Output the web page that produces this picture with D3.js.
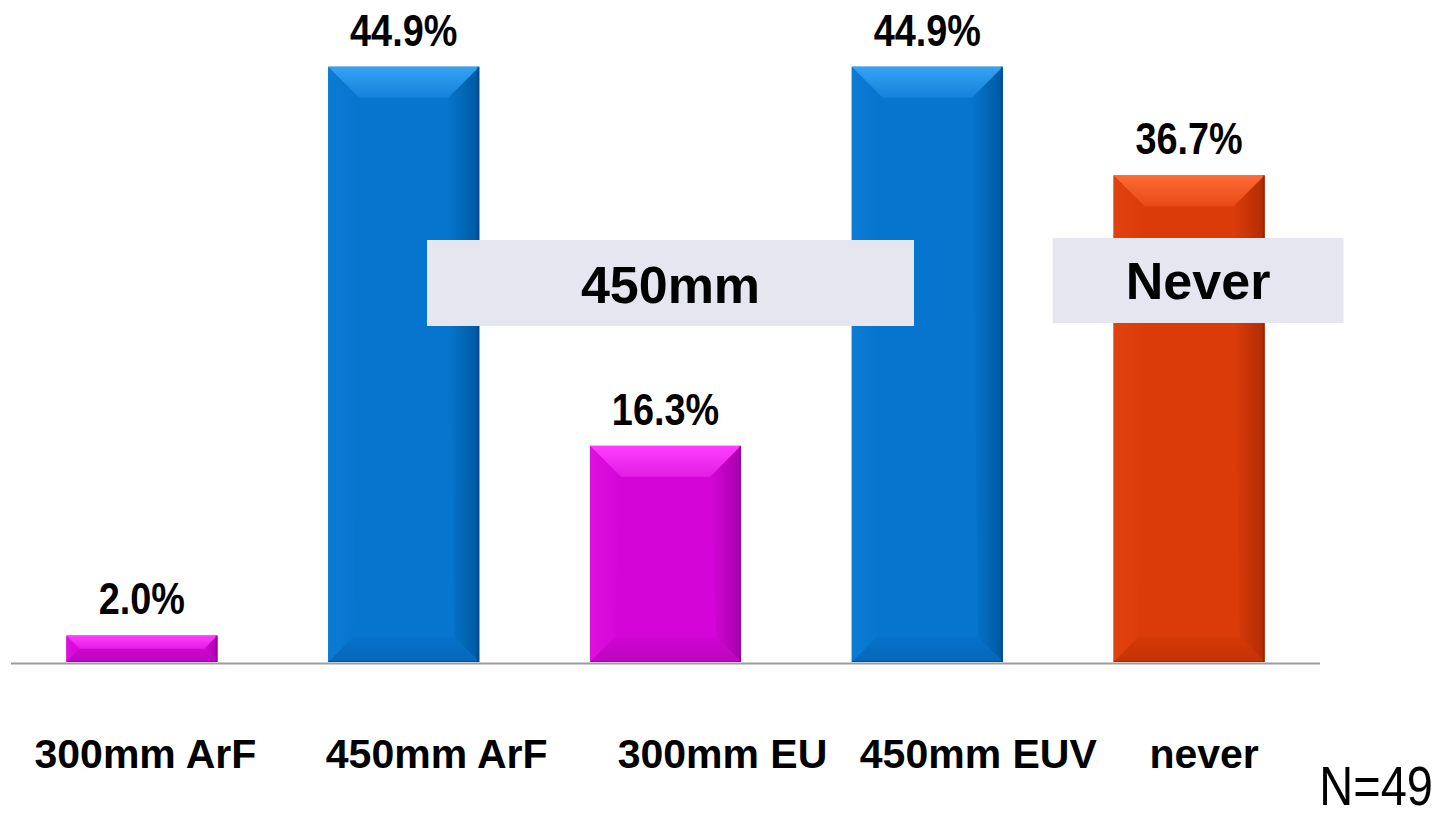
<!DOCTYPE html>
<html>
<head>
<meta charset="utf-8">
<script src="https://cdn.jsdelivr.net/npm/d3@7"></script>
<style>
  html, body { margin: 0; padding: 0; background: #ffffff; }
  svg { display: block; }
</style>
</head>
<body>
<svg id="chart" width="1439" height="817"></svg>
<script>
// Survey answers, share of respondents (%)
const categories = ["300mm ArF", "450mm ArF", "300mm EU", "450mm EUV", "never"];
const values = [2.0, 44.9, 16.3, 44.9, 36.7];
const groups = ["300mm", "450mm", "300mm", "450mm", "never"];
const groupNames = ["300mm", "450mm", "never"];
const callouts = ["450mm", "Never"];
const sampleNote = "N=49";

const svg = d3.select("#chart");
const defs = svg.append("defs");

const x = d3.scaleBand()
  .domain(categories)
  .range([11, 1320])
  .paddingInner(0.423)
  .paddingOuter(0.2115);

const y = d3.scaleLinear()
  .domain([0, 50])
  .range([662, -1]);

// bevel shades per colour family
const shades = d3.scaleOrdinal()
  .domain(groupNames)
  .range([
    { face: "#d406d7", top0: "#ff3dff", top1: "#e21de5", left0: "#dd10e0", left1: "#d406d7",
      right0: "#d406d7", right1: "#a800ad", bot0: "#cd06d0", bot1: "#bd05c0", edge: "#8c0090" },
    { face: "#0675cd", top0: "#36a3f4", top1: "#1482da", left0: "#0c7bd3", left1: "#0675cd",
      right0: "#0675cd", right1: "#00589f", bot0: "#0671c9", bot1: "#0567ba", edge: "#003f7c" },
    { face: "#db3b09", top0: "#ff6a36", top1: "#e64a15", left0: "#e0420f", left1: "#db3b09",
      right0: "#db3b09", right1: "#b12d03", bot0: "#d43908", bot1: "#c43305", edge: "#8a2200" }
  ]);

function grad(id, x1, y1, x2, y2, c0, c1) {
  const g = defs.append("linearGradient").attr("id", id)
    .attr("x1", x1).attr("y1", y1).attr("x2", x2).attr("y2", y2);
  g.append("stop").attr("offset", "0%").attr("stop-color", c0);
  g.append("stop").attr("offset", "100%").attr("stop-color", c1);
}
groupNames.forEach(gn => {
  const s = shades(gn);
  grad("top-" + gn, 0, 0, 0, 1, s.top0, s.top1);
  grad("bot-" + gn, 0, 0, 0, 1, s.bot0, s.bot1);
  grad("left-" + gn, 0, 0, 1, 0, s.left0, s.left1);
  grad("right-" + gn, 0, 0, 1, 0, s.right0, s.right1);
});

// baseline
svg.append("line")
  .attr("x1", 11).attr("x2", 1320)
  .attr("y1", 663.5).attr("y2", 663.5)
  .attr("stroke", "#9c9c9c").attr("stroke-width", 2);

const bw = x.bandwidth();
const bars = svg.append("g").selectAll("g.bar")
  .data(categories.map((c, i) => ({ cat: c, v: values[i], g: groups[i] })))
  .join("g").attr("class", "bar");

bars.each(function (d) {
  const g = d3.select(this);
  const s = shades(d.g);
  const x0 = x(d.cat), x1 = x0 + bw;
  const y0 = y(d.v), y1 = y(0);
  const h = y1 - y0;
  const bt = Math.min(31, h / 2);
  const bb = Math.min(25, h / 2);
  const pts = p => p.map(q => q.join(",")).join(" ");

  g.append("rect").attr("x", x0).attr("y", y0).attr("width", bw).attr("height", h).attr("fill", s.face);
  g.append("polygon").attr("fill", `url(#left-${d.g})`)
    .attr("points", pts([[x0, y0], [x0 + bt, y0 + bt], [x0 + bb, y1 - bb], [x0, y1]]));
  g.append("polygon").attr("fill", `url(#right-${d.g})`)
    .attr("points", pts([[x1, y0], [x1 - bt, y0 + bt], [x1 - bb, y1 - bb], [x1, y1]]));
  g.append("polygon").attr("fill", `url(#bot-${d.g})`)
    .attr("points", pts([[x0, y1], [x0 + bb, y1 - bb], [x1 - bb, y1 - bb], [x1, y1]]));
  g.append("polygon").attr("fill", `url(#top-${d.g})`)
    .attr("points", pts([[x0, y0], [x1, y0], [x1 - bt, y0 + bt], [x0 + bt, y0 + bt]]));
  // thin shaded rim
  g.append("line").attr("x1", x1 - 1).attr("x2", x1 - 1).attr("y1", y0).attr("y2", y1)
    .attr("stroke", s.edge).attr("stroke-width", 2).attr("opacity", 0.55);
  g.append("line").attr("x1", x0).attr("x2", x1).attr("y1", y1 - 0.5).attr("y2", y1 - 0.5)
    .attr("stroke", s.edge).attr("stroke-width", 1).attr("opacity", 0.5);
});

// value labels, bold condensed
const fmt = d3.format(".1f");
svg.append("g").selectAll("text")
  .data(categories.map((c, i) => ({ cat: c, v: values[i] })))
  .join("text")
  .attr("transform", d => `translate(${x(d.cat) + bw / 2},${y(d.v) - 21}) scale(0.86,1)`)
  .attr("text-anchor", "middle")
  .attr("font-family", "'Liberation Sans', Arial, sans-serif")
  .attr("font-weight", "bold")
  .attr("font-size", 44)
  .attr("fill", "#000")
  .text(d => fmt(d.v) + "%");

// category labels (hand-placed offsets from each band centre)
const labelShift = [3.5, 33, 57, 51, 15];
svg.append("g").selectAll("text")
  .data(categories)
  .join("text")
  .attr("x", (d, i) => x(d) + bw / 2 + labelShift[i])
  .attr("y", 768)
  .attr("text-anchor", "middle")
  .attr("font-family", "'Liberation Sans', Arial, sans-serif")
  .attr("font-weight", "bold")
  .attr("font-size", 41)
  .attr("fill", "#000")
  .text(d => d);

// callout boxes over the bars
const boxSpec = [
  { cx: x(categories[2]) + bw / 2 + 5, w: 487, top: 240, h: 86, base: 303 },
  { cx: x(categories[4]) + bw / 2 + 9, w: 291, top: 238, h: 85, base: 299 }
];
const boxes = svg.append("g").selectAll("g")
  .data(callouts.map((t, i) => ({ t, ...boxSpec[i] })))
  .join("g");
boxes.append("rect")
  .attr("x", d => d.cx - d.w / 2).attr("y", d => d.top)
  .attr("width", d => d.w).attr("height", d => d.h)
  .attr("fill", "#e6e6f0");
boxes.append("text")
  .attr("x", d => d.cx).attr("y", d => d.base)
  .attr("text-anchor", "middle")
  .attr("font-family", "'Liberation Sans', Arial, sans-serif")
  .attr("font-weight", "bold")
  .attr("font-size", 52)
  .attr("fill", "#000")
  .text(d => d.t);

// sample size, condensed
svg.append("text")
  .attr("transform", "translate(1433,805) scale(0.84,1)")
  .attr("text-anchor", "end")
  .attr("font-family", "'Liberation Sans', Arial, sans-serif")
  .attr("font-size", 56)
  .attr("fill", "#000")
  .text(sampleNote);
</script>
</body>
</html>
